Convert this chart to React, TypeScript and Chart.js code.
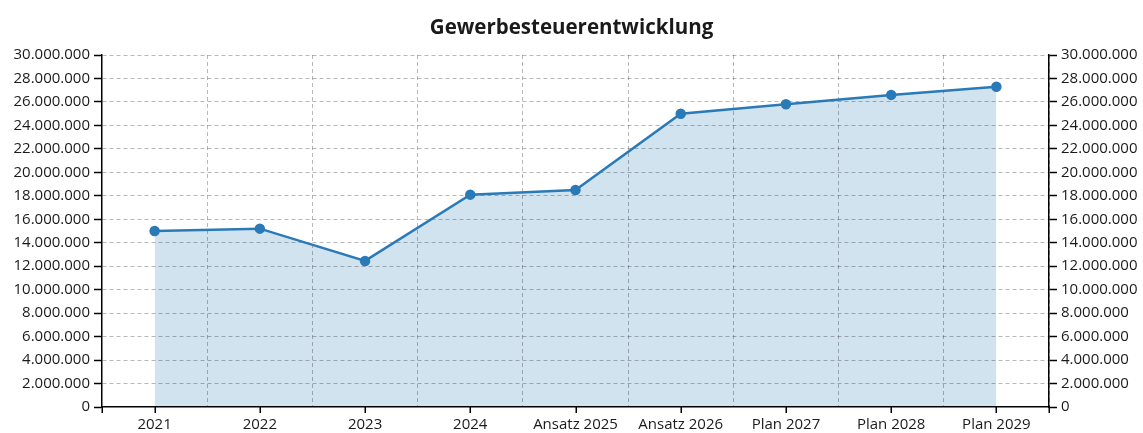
import React, { useEffect, useRef } from "react";
import { Chart, registerables } from "chart.js";

Chart.register(...registerables);

const categories = [
  "2021",
  "2022",
  "2023",
  "2024",
  "Ansatz 2025",
  "Ansatz 2026",
  "Plan 2027",
  "Plan 2028",
  "Plan 2029",
];

const gewerbesteuer = [
  15000000, 15200000, 12450000, 18100000, 18500000, 25000000, 25800000,
  26600000, 27300000,
];

const yMin = 0;
const yMax = 30000000;
const yStep = 2000000;

const titleText = "Gewerbesteuerentwicklung";

function formatDE(v: number): string {
  const s = Math.round(v).toString();
  return s.replace(/\B(?=(\d{3})+(?!\d))/g, ".");
}

const FONT = "'Open Sans', 'Noto Sans', sans-serif";
const TEXT = "#1a1a1a";
const GRID = "rgba(0,0,0,0.28)";

const xTickPlugin = {
  id: "xCenterTicks",
  afterDraw(chart: any) {
    const x = chart.scales.x;
    const ctx = chart.ctx;
    const area = chart.chartArea;
    const ys = area.bottom;
    ctx.save();
    ctx.strokeStyle = "#000";
    ctx.lineWidth = 1.5;
    const xs: number[] = [area.left, area.right];
    for (let i = 0; i < categories.length; i++) xs.push(x.getPixelForValue(i));
    ctx.beginPath();
    for (const px of xs) {
      const p = Math.round(px) + 0.25;
      ctx.moveTo(p, ys);
      ctx.lineTo(p, ys + 6);
    }
    ctx.stroke();
    ctx.restore();
  },
};

export default function App() {
  const ref = useRef<HTMLCanvasElement | null>(null);

  useEffect(() => {
    document.body.style.margin = "0";
    const canvas = ref.current;
    if (!canvas) return;
    const chart = new Chart(canvas, {
      type: "line",
      data: {
        labels: categories,
        datasets: [
          {
            label: titleText,
            data: gewerbesteuer,
            borderColor: "#2a7ab8",
            backgroundColor: "#d2e3f0",
            pointBackgroundColor: "#2a7ab8",
            pointBorderColor: "#2a7ab8",
            pointRadius: 4,
            borderWidth: 2.5,
            fill: "origin",
            tension: 0,
            yAxisID: "y",
          },
        ],
      },
      options: {
        animation: false,
        responsive: false,
        maintainAspectRatio: false,
        layout: { padding: 0 },
        plugins: {
          legend: { display: false },
          tooltip: { enabled: false },
          filler: { drawTime: "beforeDraw" } as any,
          title: {
            display: true,
            text: titleText,
            color: TEXT,
            font: { family: FONT, size: 20.5, weight: "bold" },
            padding: { top: 16, bottom: 14.4 },
          },
        },
        scales: {
          x: {
            type: "category",
            offset: true,
            grid: {
              offset: true,
              drawTicks: false,
              color: (c: any) =>
                c.index === 0 || c.index >= categories.length ? "rgba(0,0,0,0)" : GRID,
              lineWidth: 1,
            },
            border: { display: true, color: "#000", width: 1.5, dash: [4, 3] },
            ticks: {
              color: TEXT,
              padding: 9,
              font: { family: FONT, size: 15 },
              autoSkip: false,
              maxRotation: 0,
            },
            afterFit: (s: any) => {
              s.height = 26;
            },
          },
          y: {
            position: "left",
            min: yMin,
            max: yMax,
            grid: {
              color: (c: any) => (c.index === 0 ? "rgba(0,0,0,0)" : GRID),
              lineWidth: 1,
              tickColor: "#000",
              tickWidth: 1.5,
              tickLength: 8,
            },
            border: { display: true, color: "#000", width: 1.5, dash: [4, 3] },
            ticks: {
              stepSize: yStep,
              color: TEXT,
              padding: 4,
              font: { family: FONT, size: 15 },
              callback: (v: any) => formatDE(Number(v)),
            },
            afterFit: (s: any) => {
              s.width = 102;
            },
          },
          y2: {
            position: "right",
            min: yMin,
            max: yMax,
            grid: {
              drawOnChartArea: false,
              color: "#000",
              tickColor: "#000",
              tickWidth: 1.5,
              tickLength: 8,
            },
            border: { display: true, color: "#000", width: 1.5 },
            ticks: {
              stepSize: yStep,
              color: TEXT,
              padding: 4,
              font: { family: FONT, size: 15 },
              callback: (v: any) => formatDE(Number(v)),
            },
            afterFit: (s: any) => {
              s.width = 94;
            },
          },
        },
      },
      plugins: [xTickPlugin],
    });
    return () => chart.destroy();
  }, []);

  return (
    <div style={{ width: 1143, height: 433, background: "#fff" }}>
      <canvas ref={ref} width={1143} height={433} style={{ display: "block" }} />
    </div>
  );
}
